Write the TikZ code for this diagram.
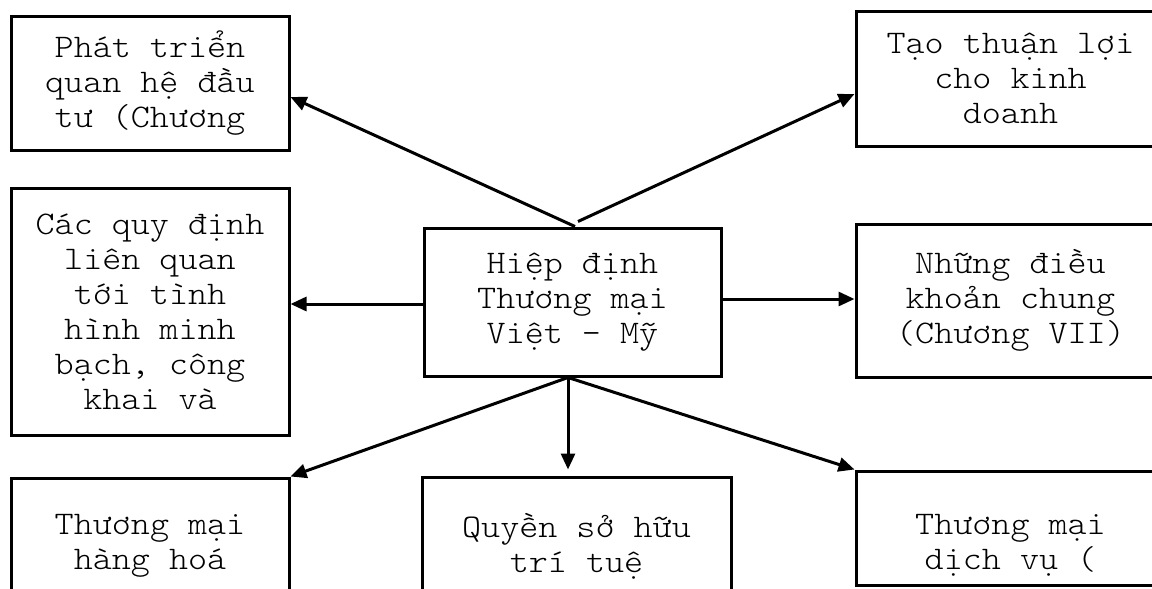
\documentclass[tikz,border=0pt]{standalone}
\usepackage{fontspec}
\newfontfamily\cour[FakeStretch=1.1]{lmmonolt10-regular.otf}
\usetikzlibrary{arrows.meta,calc}
\begin{document}
\begin{tikzpicture}[x=1pt,y=-1pt,
  boxtext/.style={align=center,font=\cour\fontsize{33}{35}\selectfont},
  box/.style={draw,line width=3pt,rectangle,inner sep=0pt,boxtext},
  conn/.style={line width=3pt,-{Triangle[length=16pt,width=14pt]}}]
\clip (0,0) rectangle (1152,589);
\fill[white] (0,0) rectangle (1152,589);
\node[box,minimum width=278pt,minimum height=134pt] (TL) at (150,83) {Phát triển\\quan hệ đầu\\tư (Chương};
\node[box,minimum width=309pt,minimum height=135pt] (TR) at (1010.5,78.5) {Tạo thuận lợi\\cho kinh\\doanh};
\node[box,minimum width=278pt,minimum height=247pt] (ML) at (150,311.5) {Các quy định\\liên quan\\tới tình\\hình minh\\bạch, công\\khai và};
\node[box,minimum width=297pt,minimum height=148pt] (C) at (572.5,302) {Hiệp định\\Thương mại\\Việt - Mỹ};
\node[box,minimum width=309pt,minimum height=153pt] (MR) at (1010.5,300.5) {Những điều\\khoản chung\\(Chương VII)};
\node[box,minimum width=278pt,minimum height=136pt] (BL) at (150,546) {Thương mại\\hàng hoá};
\node[box,minimum width=309pt,minimum height=138pt] (BM) at (576.5,546) {Quyền sở hữu\\trí tuệ};
\node[box,minimum width=309pt,minimum height=114pt,
  label={[boxtext,yshift=-17pt]center:Thương mại\\dịch vụ (}] (BR) at (1010.5,528) {};
\draw[conn] ([xshift=2.5pt]C.north) -- ([yshift=-14pt]TL.east);
\draw[conn] ([xshift=5.5pt,yshift=5pt]C.north) -- ([yshift=-15.5pt]TR.west);
\coordinate (cw) at ([yshift=-2pt]C.west);
\draw[conn] (cw) -- (cw -| ML.east);
\coordinate (ce) at ([yshift=3pt]C.east);
\draw[conn] (ce) -- (ce -| MR.west);
\coordinate (cs) at ([xshift=-4.5pt]C.south);
\coordinate (bmt) at ([yshift=6pt]BM.north);
\draw[conn] (cs) -- (BL.north east);
\draw[conn] (cs) -- (cs |- bmt);
\draw[conn] (cs) -- (BR.north west);
\end{tikzpicture}
\end{document}
